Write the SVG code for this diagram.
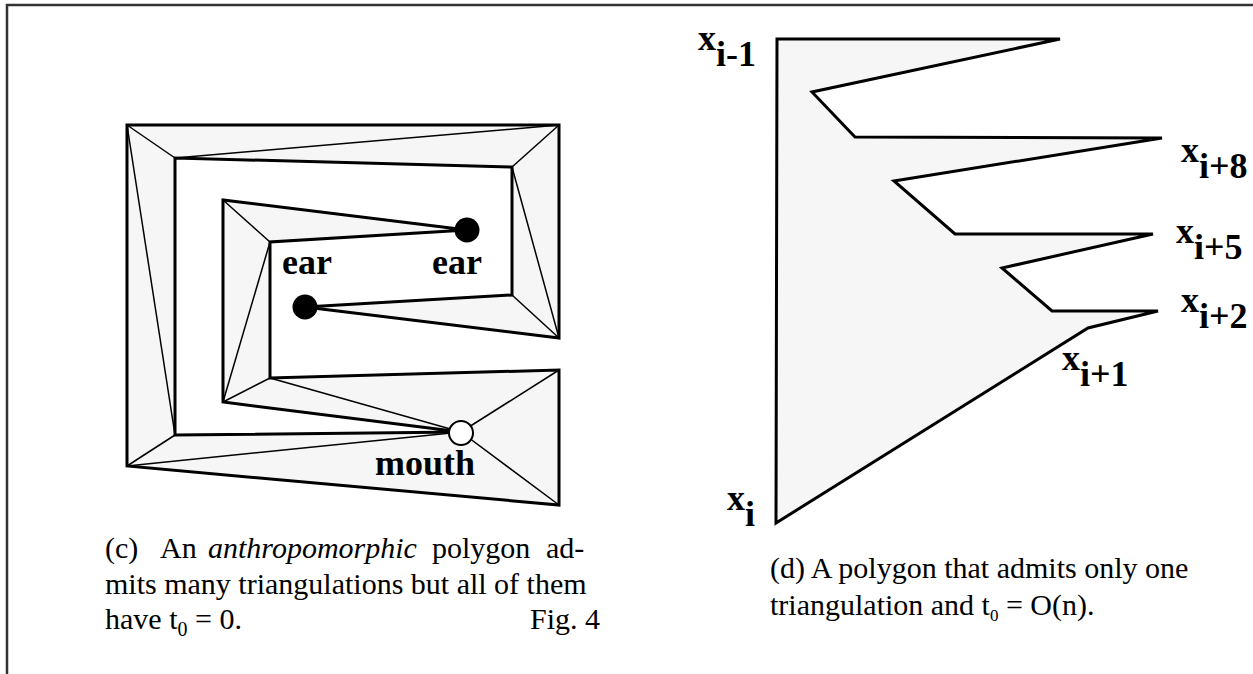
<svg xmlns="http://www.w3.org/2000/svg" width="1253" height="674" viewBox="0 0 1253 674">
<style>
.frame{stroke:#333;stroke-width:2.5;fill:none}
.poly{fill:#f6f6f6;stroke:#000;stroke-width:3;stroke-linejoin:miter}
.diag{stroke:#000;stroke-width:1.5;fill:none}
.lbl{font-family:"Liberation Serif",serif;font-weight:bold;font-size:36px;fill:#000}
.cap{font-family:"Liberation Serif",serif;font-size:30px;fill:#000}
</style>
<rect width="1253" height="674" fill="#fff"/>
<path class="frame" d="M7,674 V5 H1253"/>
<g id="polygon-c">
<polygon class="poly" points="127,125 559,125 559,338 305,307 512,295 512,167 175,158 175,435 461,432 223,402 223,200 467,230 270,242 270,378 559,370 559,505 127,466"/>
</g>
<g id="connectors">
<line class="diag" x1="127" y1="125" x2="175" y2="158"/>
<line class="diag" x1="175" y1="158" x2="559" y2="125"/>
<line class="diag" x1="559" y1="125" x2="512" y2="167"/>
<line class="diag" x1="512" y1="167" x2="559" y2="338"/>
<line class="diag" x1="512" y1="295" x2="559" y2="338"/>
<line class="diag" x1="127" y1="125" x2="175" y2="435"/>
<line class="diag" x1="175" y1="435" x2="127" y2="466"/>
<line class="diag" x1="127" y1="466" x2="461" y2="432"/>
<line class="diag" x1="461" y1="432" x2="559" y2="505"/>
<line class="diag" x1="461" y1="432" x2="559" y2="370"/>
<line class="diag" x1="270" y1="378" x2="461" y2="432"/>
<line class="diag" x1="223" y1="402" x2="270" y2="378"/>
<line class="diag" x1="270" y1="242" x2="223" y2="402"/>
<line class="diag" x1="223" y1="200" x2="270" y2="242"/>
</g>
<g id="ear-left"><circle cx="305" cy="307" r="12.5" fill="#000"/><text class="lbl" x="282" y="274">ear</text></g>
<g id="ear-right"><circle cx="467" cy="230" r="12.5" fill="#000"/><text class="lbl" x="432" y="274">ear</text></g>
<g id="mouth"><circle cx="461" cy="433" r="12" fill="#fff" stroke="#000" stroke-width="2"/><text class="lbl" x="375" y="475">mouth</text></g>
<g id="caption-c">
<text class="cap" y="558"><tspan x="105">(c)</tspan><tspan x="160">An</tspan><tspan x="208" font-style="italic">anthropomorphic</tspan><tspan x="432">polygon</tspan><tspan x="546">ad-</tspan></text>
<text class="cap" x="105" y="594">mits many triangulations but all of them</text>
<text class="cap" x="105" y="629">have t<tspan font-size="20" dy="7">0</tspan><tspan dy="-7"> = 0.</tspan></text>
<text class="cap" x="530" y="629">Fig. 4</text>
</g>
<g id="polygon-d">
<polygon class="poly" points="777,39 1060,39 812,92 855,137 1162,138 894,181 955,234 1153,234 1002,268 1052,311 1158,311 1088,328 776,523"/>
</g>
<g id="labels-d">
<text class="lbl" x="698" y="50">x<tspan dy="16">i-1</tspan></text>
<text class="lbl" x="1181" y="162">x<tspan dy="16">i+8</tspan></text>
<text class="lbl" x="1176" y="243">x<tspan dy="16">i+5</tspan></text>
<text class="lbl" x="1181" y="312">x<tspan dy="16">i+2</tspan></text>
<text class="lbl" x="1062" y="370">x<tspan dy="16">i+1</tspan></text>
<text class="lbl" x="727" y="510">x<tspan dy="16">i</tspan></text>
</g>
<g id="caption-d">
<text class="cap" x="770" y="578" font-size="31">(d) A polygon that admits only one</text>
<text class="cap" x="770" y="615" font-size="31">triangulation and t<tspan font-size="17" dy="6">0</tspan><tspan dy="-6"> = O(n).</tspan></text>
</g>
</svg>
